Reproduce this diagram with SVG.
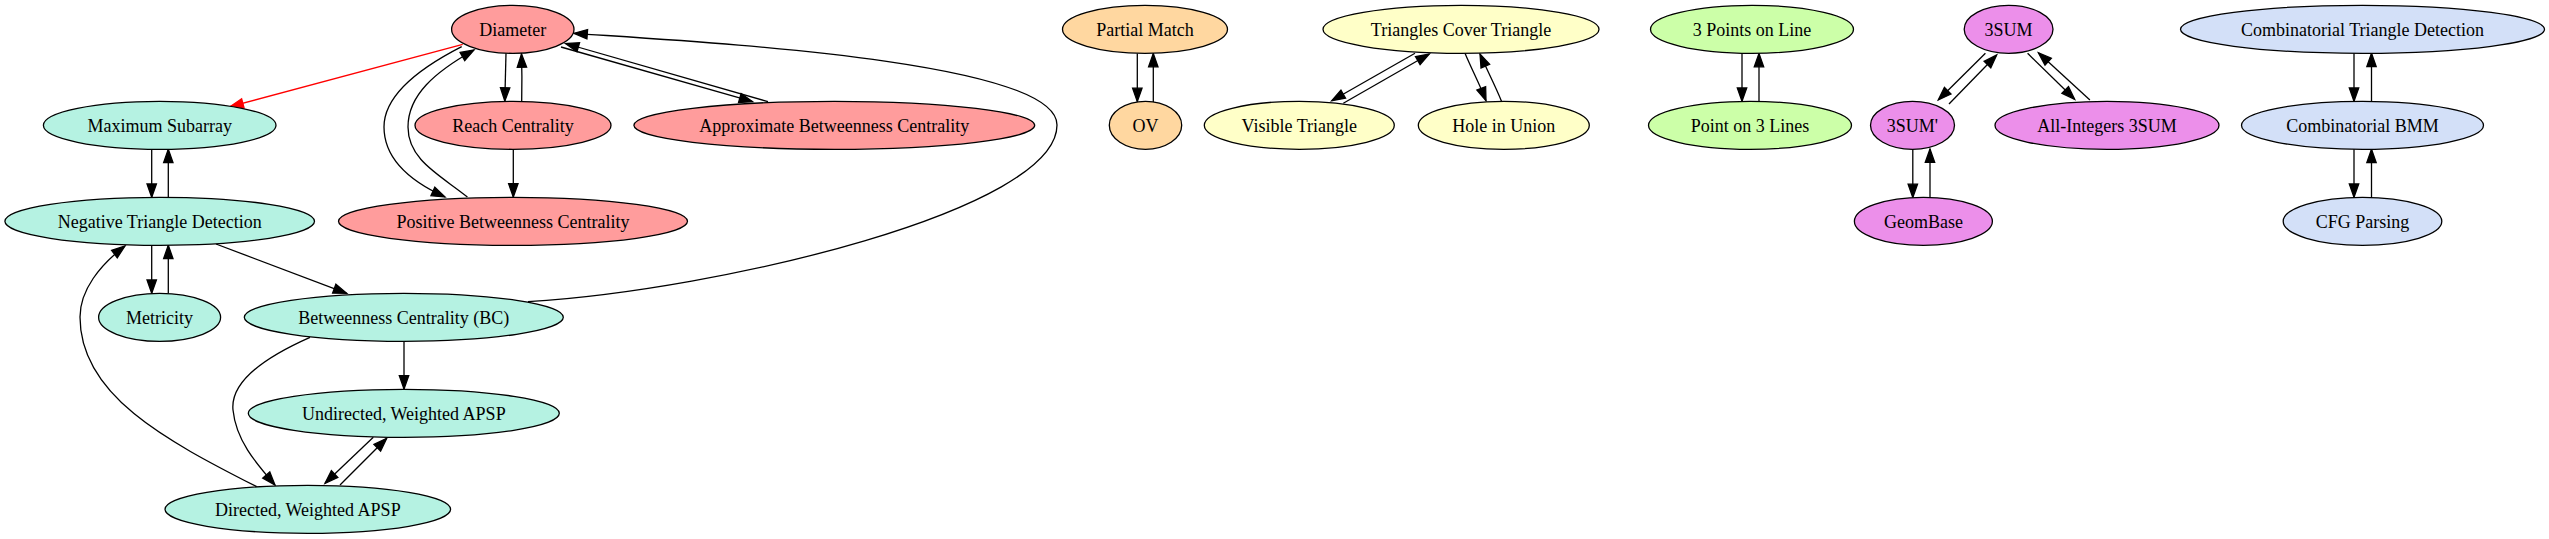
<svg xmlns="http://www.w3.org/2000/svg" width="2549" height="539" viewBox="0 0 2549 539">
<style>
.n ellipse{stroke:#000;stroke-width:1.3}
.n text{font-family:"Liberation Serif","Times New Roman",serif;font-size:18px;text-anchor:middle;fill:#000}
.red ellipse{fill:#ff9c9c}
.teal ellipse{fill:#b5f2e2}
.orange ellipse{fill:#ffd7a0}
.yellow ellipse{fill:#ffffc8}
.green ellipse{fill:#ccffa8}
.mag ellipse{fill:#ec8fea}
.blue ellipse{fill:#d3e0f8}
#edges path{fill:none;stroke:#000;stroke-width:1.3;marker-end:url(#ah)}
#edges path.r{stroke:#ff0000;marker-end:url(#ahr)}
</style>
<defs>
<marker id="ah" markerUnits="userSpaceOnUse" markerWidth="16" markerHeight="12" refX="13.3" refY="4.7" orient="auto" overflow="visible">
<path d="M0,0 L13.3,4.7 L0,9.4 z" fill="#000" stroke="#000" stroke-width="1.3"/>
</marker>
<marker id="ahr" markerUnits="userSpaceOnUse" markerWidth="16" markerHeight="12" refX="13.3" refY="4.7" orient="auto" overflow="visible">
<path d="M0,0 L13.3,4.7 L0,9.4 z" fill="#ff0000" stroke="#ff0000" stroke-width="1.3"/>
</marker>
</defs>
<rect width="2549" height="539" fill="#fff"/>
<g id="edges">
<path class="r" d="M462.7,44.3 L230,106.7"/>
<path d="M506,53.3 L504.8,101"/>
<path d="M521.7,101 C522,87 522,70 521.5,54"/>
<path d="M461.7,46.7 C420,68 384,95 384,127 C384,160 412,182 445,197"/>
<path d="M467.4,197 C440,175 408,160 408,127 C408,95 435,72 474,50"/>
<path d="M513.3,149 L513.3,197"/>
<path d="M561,47 L752.6,101.7"/>
<path d="M768,101.7 L565.5,43.5"/>
<path d="M528,301.7 C720,290 1057,210 1057,125 C1057,60 700,42 574,33.3"/>
<path d="M151.7,150 L151.7,197.3"/>
<path d="M168.3,197.5 L168.3,149.3"/>
<path d="M151.7,245.5 L151.7,293.3"/>
<path d="M168.3,293.5 L168.3,245.3"/>
<path d="M216,244 L346.7,293.3"/>
<path d="M256.7,486.7 C165,440 80,395 80,317 C80,290 100,265 125,246"/>
<path d="M310,337.3 C270,355 230,380 233,410 C236,440 255,462 275,485"/>
<path d="M404,341.5 L404,389"/>
<path d="M373.3,437.3 L325,483.3"/>
<path d="M340,485 L386.7,438.3"/>
<path d="M1137.3,53.5 L1137.3,101.5"/>
<path d="M1153.3,102 L1153.3,53.5"/>
<path d="M1415,53.3 L1331.7,100.7"/>
<path d="M1343.3,103.3 L1429.3,54"/>
<path d="M1465,53.3 C1472,70 1480,85 1486,100.7"/>
<path d="M1501.7,101.7 C1495,85 1487,70 1480,54"/>
<path d="M1742,53.5 L1742,101.3"/>
<path d="M1759,101.3 L1759,53.5"/>
<path d="M1985.4,53.3 L1938.3,100"/>
<path d="M1949,104 L1996.7,55"/>
<path d="M2027.6,53.3 L2074.7,99.3"/>
<path d="M2089.9,100 L2038.4,52.7"/>
<path d="M1912.8,149 L1912.8,197.5"/>
<path d="M1930,197.5 L1930,149"/>
<path d="M2354,53.3 L2354,101.3"/>
<path d="M2371.5,101.3 L2371.5,53.3"/>
<path d="M2354,149.3 L2354,197.3"/>
<path d="M2371.5,197.3 L2371.5,149.3"/>
</g>
<g id="diameter" class="n red"><ellipse cx="512.8" cy="29.3" rx="61.2" ry="24"/><text x="512.8" y="36">Diameter</text></g>
<g id="reach" class="n red"><ellipse cx="513" cy="125.3" rx="98" ry="24"/><text x="513" y="132">Reach Centrality</text></g>
<g id="approx-bc" class="n red"><ellipse cx="834.3" cy="125.3" rx="200.4" ry="24"/><text x="834.3" y="132">Approximate Betweenness Centrality</text></g>
<g id="positive-bc" class="n red"><ellipse cx="513" cy="221.3" rx="174.5" ry="24"/><text x="513" y="228">Positive Betweenness Centrality</text></g>
<g id="max-subarray" class="n teal"><ellipse cx="159.7" cy="125.3" rx="116.3" ry="24"/><text x="159.7" y="132">Maximum Subarray</text></g>
<g id="ntd" class="n teal"><ellipse cx="159.7" cy="221.3" rx="154.8" ry="24"/><text x="159.7" y="228">Negative Triangle Detection</text></g>
<g id="metricity" class="n teal"><ellipse cx="159.6" cy="317.3" rx="61" ry="24"/><text x="159.6" y="324">Metricity</text></g>
<g id="bc" class="n teal"><ellipse cx="403.8" cy="317.3" rx="159.5" ry="24"/><text x="403.8" y="324">Betweenness Centrality (BC)</text></g>
<g id="undirected" class="n teal"><ellipse cx="403.8" cy="413.3" rx="155.5" ry="24"/><text x="403.8" y="420">Undirected, Weighted APSP</text></g>
<g id="directed" class="n teal"><ellipse cx="307.8" cy="509.3" rx="142.8" ry="24"/><text x="307.8" y="516">Directed, Weighted APSP</text></g>
<g id="partial-match" class="n orange"><ellipse cx="1145" cy="29.3" rx="82.5" ry="24"/><text x="1145" y="36">Partial Match</text></g>
<g id="ov" class="n orange"><ellipse cx="1145.5" cy="125.3" rx="36.2" ry="24"/><text x="1145.5" y="132">OV</text></g>
<g id="tct" class="n yellow"><ellipse cx="1461" cy="29.3" rx="138" ry="24"/><text x="1461" y="36">Triangles Cover Triangle</text></g>
<g id="visible" class="n yellow"><ellipse cx="1299.3" cy="125.3" rx="95" ry="24"/><text x="1299.3" y="132">Visible Triangle</text></g>
<g id="hole" class="n yellow"><ellipse cx="1503.8" cy="125.3" rx="85.5" ry="24"/><text x="1503.8" y="132">Hole in Union</text></g>
<g id="3pol" class="n green"><ellipse cx="1752" cy="29.3" rx="101.5" ry="24"/><text x="1752" y="36">3 Points on Line</text></g>
<g id="po3l" class="n green"><ellipse cx="1750" cy="125.3" rx="101.5" ry="24"/><text x="1750" y="132">Point on 3 Lines</text></g>
<g id="3sum" class="n mag"><ellipse cx="2008.6" cy="29.3" rx="44.4" ry="24"/><text x="2008.6" y="36">3SUM</text></g>
<g id="3sump" class="n mag"><ellipse cx="1912.5" cy="125.3" rx="42" ry="24"/><text x="1912.5" y="132">3SUM'</text></g>
<g id="allint" class="n mag"><ellipse cx="2107" cy="125.3" rx="112" ry="24"/><text x="2107" y="132">All-Integers 3SUM</text></g>
<g id="geombase" class="n mag"><ellipse cx="1923.4" cy="221.3" rx="69" ry="24"/><text x="1923.4" y="228">GeomBase</text></g>
<g id="ctd" class="n blue"><ellipse cx="2362.5" cy="29.3" rx="182" ry="24"/><text x="2362.5" y="36">Combinatorial Triangle Detection</text></g>
<g id="cbmm" class="n blue"><ellipse cx="2362.5" cy="125.3" rx="121" ry="24"/><text x="2362.5" y="132">Combinatorial BMM</text></g>
<g id="cfg" class="n blue"><ellipse cx="2362.5" cy="221.3" rx="79.3" ry="24"/><text x="2362.5" y="228">CFG Parsing</text></g>
</svg>
